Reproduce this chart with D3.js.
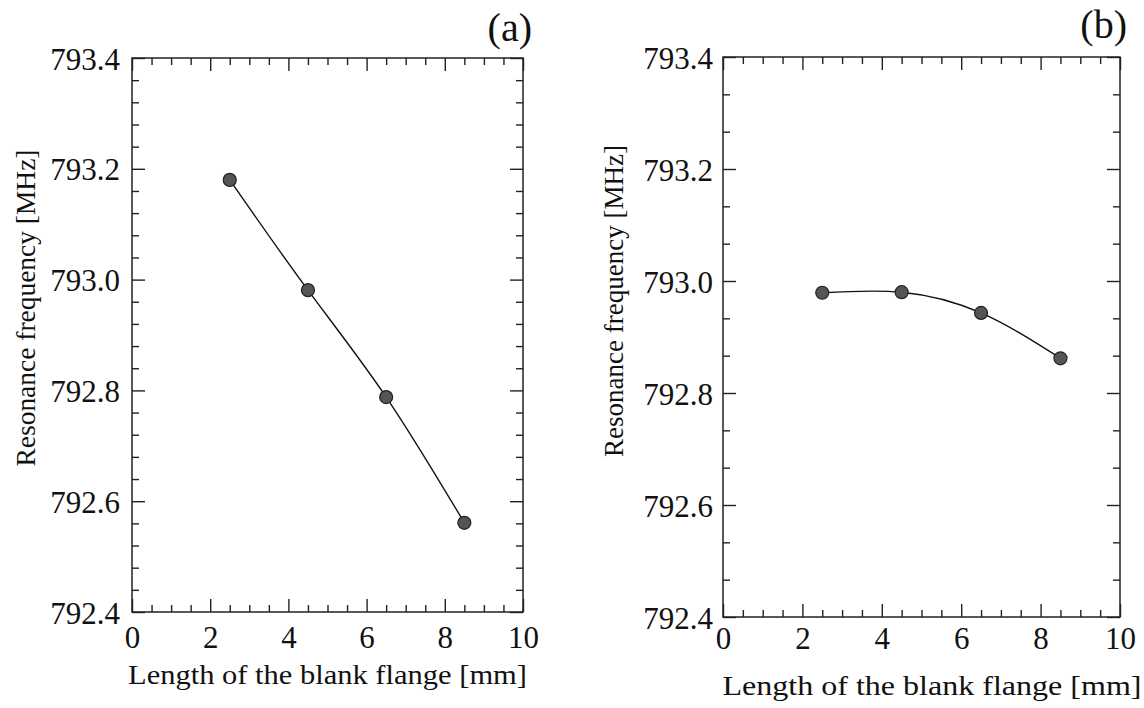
<!DOCTYPE html>
<html>
<head>
<meta charset="utf-8">
<script src="https://cdn.jsdelivr.net/npm/d3@7"></script>
<style>
  html, body { margin: 0; padding: 0; background: #fff; }
  svg { display: block; font-family: "Liberation Serif" !important; }
  svg text { font-family: "Liberation Serif" !important; }
</style>
</head>
<body>
<svg id="chart" width="1144" height="708" font-family="Liberation Serif"></svg>
<script>
// ---- data ----
const lengthsA = [2.5, 4.5, 6.5, 8.5];
const freqA = [793.18, 792.981, 792.788, 792.561];
const lengthsB = [2.5, 4.5, 6.5, 8.5];
const freqB = [792.979, 792.980, 792.943, 792.862];
const xTicks = [0, 2, 4, 6, 8, 10];
const yTicks = [792.4, 792.6, 792.8, 793.0, 793.2, 793.4];
const xTitle = "Length of the blank flange [mm]";
const yTitle = "Resonance frequency [MHz]";
const panelLabels = ["(a)", "(b)"];

const FONT = "Liberation Serif";

const svg = d3.select("#chart");

const panels = [
  { xs: lengthsA, ys: freqA, left: 132, right: 523, top: 58, bottom: 612, yMinorStep: 0.04,
    yPad: 12, yDy: 11, xPad: 14, label: panelLabels[0], labelX: 532, labelY: 41,
    xTitleX: 327.5, xTitleY: 684, xTitleLen: 399,
    yTitleX: 35, yTitleY: 308, yTitleLen: 317 },
  { xs: lengthsB, ys: freqB, left: 723, right: 1120, top: 57, bottom: 617, yMinorStep: 0.2 / 3,
    yPad: 10, yDy: 11, xPad: 10, label: panelLabels[1], labelX: 1127, labelY: 38,
    xTitleX: 932, xTitleY: 695, xTitleLen: 419,
    yTitleX: 623, yTitleY: 301, yTitleLen: 312 }
];

function range(a, b, step) {
  const out = [];
  const n = Math.round((b - a) / step);
  for (let i = 0; i <= n; i++) out.push(a + i * step);
  return out;
}

function serif(sel, size) {
  sel.attr("font-family", FONT).attr("font-size", size)
    .style("font-family", '"Liberation Serif"').style("font-size", size + "px")
    .attr("fill", "#111");
}

panels.forEach(p => {
  const x = d3.scaleLinear().domain([0, 10]).range([p.left, p.right]);
  const y = d3.scaleLinear().domain([792.4, 793.4]).range([p.bottom, p.top]);
  const w = p.right - p.left, h = p.bottom - p.top;
  const xMinor = range(0, 10, 0.5).filter(v => Math.abs(v / 2 - Math.round(v / 2)) > 1e-6);
  const yMinor = range(792.4, 793.4, p.yMinorStep).filter(v => {
    const r = (v - 792.4) / 0.2; return Math.abs(r - Math.round(r)) > 1e-6;
  });

  const g = svg.append("g");

  function styleAxis(sel) {
    sel.select(".domain").remove();
    sel.selectAll(".tick line").attr("stroke", "#222").attr("stroke-width", 1.4);
    sel.attr("font-family", FONT).attr("font-size", 31);
    sel.selectAll("text").call(serif, 31);
  }

  // bottom
  g.append("g").attr("transform", `translate(0,${p.bottom})`)
    .call(d3.axisBottom(x).tickValues(xTicks).tickSize(-13).tickPadding(p.xPad).tickFormat(d3.format("d")))
    .call(styleAxis);
  g.append("g").attr("transform", `translate(0,${p.bottom})`)
    .call(d3.axisBottom(x).tickValues(xMinor).tickSize(-7).tickFormat(""))
    .call(styleAxis);
  // top
  g.append("g").attr("transform", `translate(0,${p.top})`)
    .call(d3.axisTop(x).tickValues(xTicks).tickSize(-13).tickFormat(""))
    .call(styleAxis);
  g.append("g").attr("transform", `translate(0,${p.top})`)
    .call(d3.axisTop(x).tickValues(xMinor).tickSize(-7).tickFormat(""))
    .call(styleAxis);
  // left
  g.append("g").attr("transform", `translate(${p.left},0)`)
    .call(d3.axisLeft(y).tickValues(yTicks).tickSize(-13).tickPadding(p.yPad).tickFormat(d3.format(".1f")))
    .call(styleAxis)
    .call(s => s.selectAll("text").attr("dy", null).attr("y", p.yDy));
  g.append("g").attr("transform", `translate(${p.left},0)`)
    .call(d3.axisLeft(y).tickValues(yMinor).tickSize(-7).tickFormat(""))
    .call(styleAxis);
  // right
  g.append("g").attr("transform", `translate(${p.right},0)`)
    .call(d3.axisRight(y).tickValues(yTicks).tickSize(-13).tickFormat(""))
    .call(styleAxis);
  g.append("g").attr("transform", `translate(${p.right},0)`)
    .call(d3.axisRight(y).tickValues(yMinor).tickSize(-7).tickFormat(""))
    .call(styleAxis);

  // frame
  g.append("rect").attr("x", p.left).attr("y", p.top).attr("width", w).attr("height", h)
    .attr("fill", "none").attr("stroke", "#222").attr("stroke-width", 1.5);

  // line
  const pts = p.xs.map((v, i) => [v, p.ys[i]]);
  g.append("path").datum(pts)
    .attr("d", d3.line().x(d => x(d[0])).y(d => y(d[1])).curve(d3.curveNatural))
    .attr("fill", "none").attr("stroke", "#111").attr("stroke-width", 1.4);

  g.selectAll("circle.pt").data(pts).join("circle").attr("class", "pt")
    .attr("cx", d => x(d[0])).attr("cy", d => y(d[1])).attr("r", 6.5)
    .attr("fill", "#555").attr("stroke", "#222").attr("stroke-width", 1.2);

  // titles
  g.append("text").attr("x", p.xTitleX).attr("y", p.xTitleY)
    .call(serif, 28)
    .attr("text-anchor", "middle")
    .attr("textLength", p.xTitleLen).attr("lengthAdjust", "spacingAndGlyphs")
    .text(xTitle);
  g.append("text").attr("transform", `translate(${p.yTitleX},${p.yTitleY}) rotate(-90)`)
    .call(serif, 28)
    .attr("text-anchor", "middle")
    .attr("textLength", p.yTitleLen).attr("lengthAdjust", "spacingAndGlyphs")
    .text(yTitle);
  g.append("text").attr("x", p.labelX).attr("y", p.labelY)
    .call(serif, 40)
    .attr("text-anchor", "end")
    .text(p.label);
});
</script>
</body>
</html>
